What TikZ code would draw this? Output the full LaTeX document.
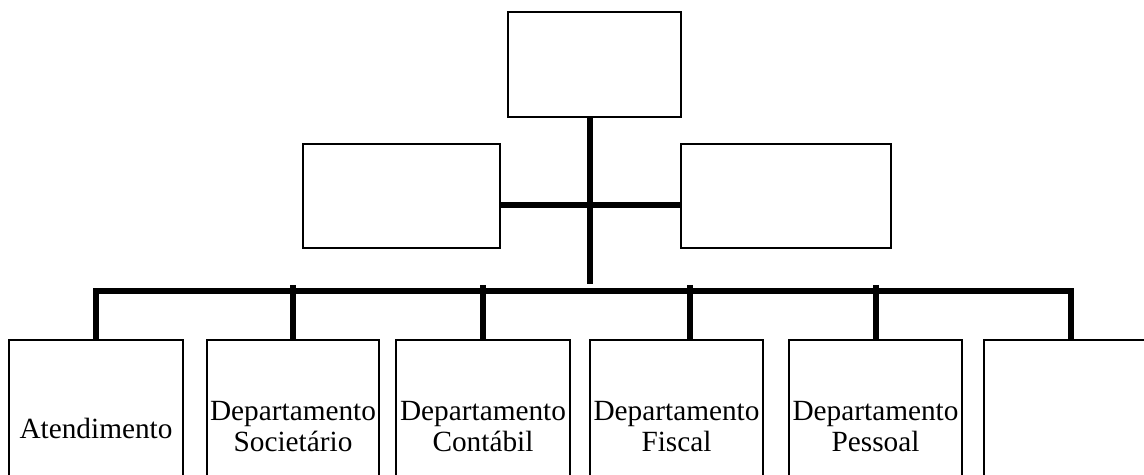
\documentclass[tikz,border=0pt]{standalone}
\usepackage{fontspec}
\setmainfont{Liberation Serif}
\usetikzlibrary{fit}
\begin{document}
\begin{tikzpicture}[x=0.5pt,y=-0.5pt,
  box/.style={draw, line width=0.8pt, inner sep=0pt, fill=white},
  link/.style={line width=3pt},
  lbl/.style={inner sep=0pt, align=center, font=\fontsize{14.65}{15.5}\selectfont}]
\useasboundingbox (0,0) rectangle (1144,475);
\clip (0,0) rectangle (1144,475);

% upper levels
\node[box, fit={(508,12) (681,117)}] (top) {};
\node[box, fit={(303,144) (500,248)}] (ml) {};
\node[box, fit={(681,144) (891,248)}] (mr) {};

% departments (they run past the lower edge)
\node[box, fit={(9,340) (183,520)}] (b1) {};
\node[box, fit={(207,340) (379,520)}] (b2) {};
\node[box, fit={(396,340) (570,520)}] (b3) {};
\node[box, fit={(590,340) (763,520)}] (b4) {};
\node[box, fit={(789,340) (962,520)}] (b5) {};
\node[box, fit={(984,340) (1170,520)}] (b6) {};

\node[lbl, anchor=base] (t1) at (96,438) {Atendimento};
\node[lbl] (t2) at (293,426.8) {Departamento\\Societário};
\node[lbl] (t3) at (483,426.8) {Departamento\\Contábil};
\node[lbl] (t4) at (676.5,426.8) {Departamento\\Fiscal};
\node[lbl] (t5) at (875.5,426.8) {Departamento\\Pessoal};

% connectors
\coordinate (hub) at (590,284);
\coordinate (midbar) at (590,205.5);
\coordinate (busL) at (96,291.5);
\coordinate (busR) at (1070.5,291.5);
\coordinate (d2) at (293,285);
\coordinate (d3) at (483,285);
\coordinate (d4) at (690,285);
\coordinate (d5) at (876,285);

\draw[link] (top.south -| hub) -- (hub);
\draw[link] (ml.east |- midbar) -- (mr.west |- midbar);
\draw[link] (busL |- b1.north) -- (busL) -- (busR) -- (busR |- b6.north);
\foreach \d/\b in {d2/b2, d3/b3, d4/b4, d5/b5}
  \draw[link] (\d) -- (\d |- \b.north);
\end{tikzpicture}
\end{document}
